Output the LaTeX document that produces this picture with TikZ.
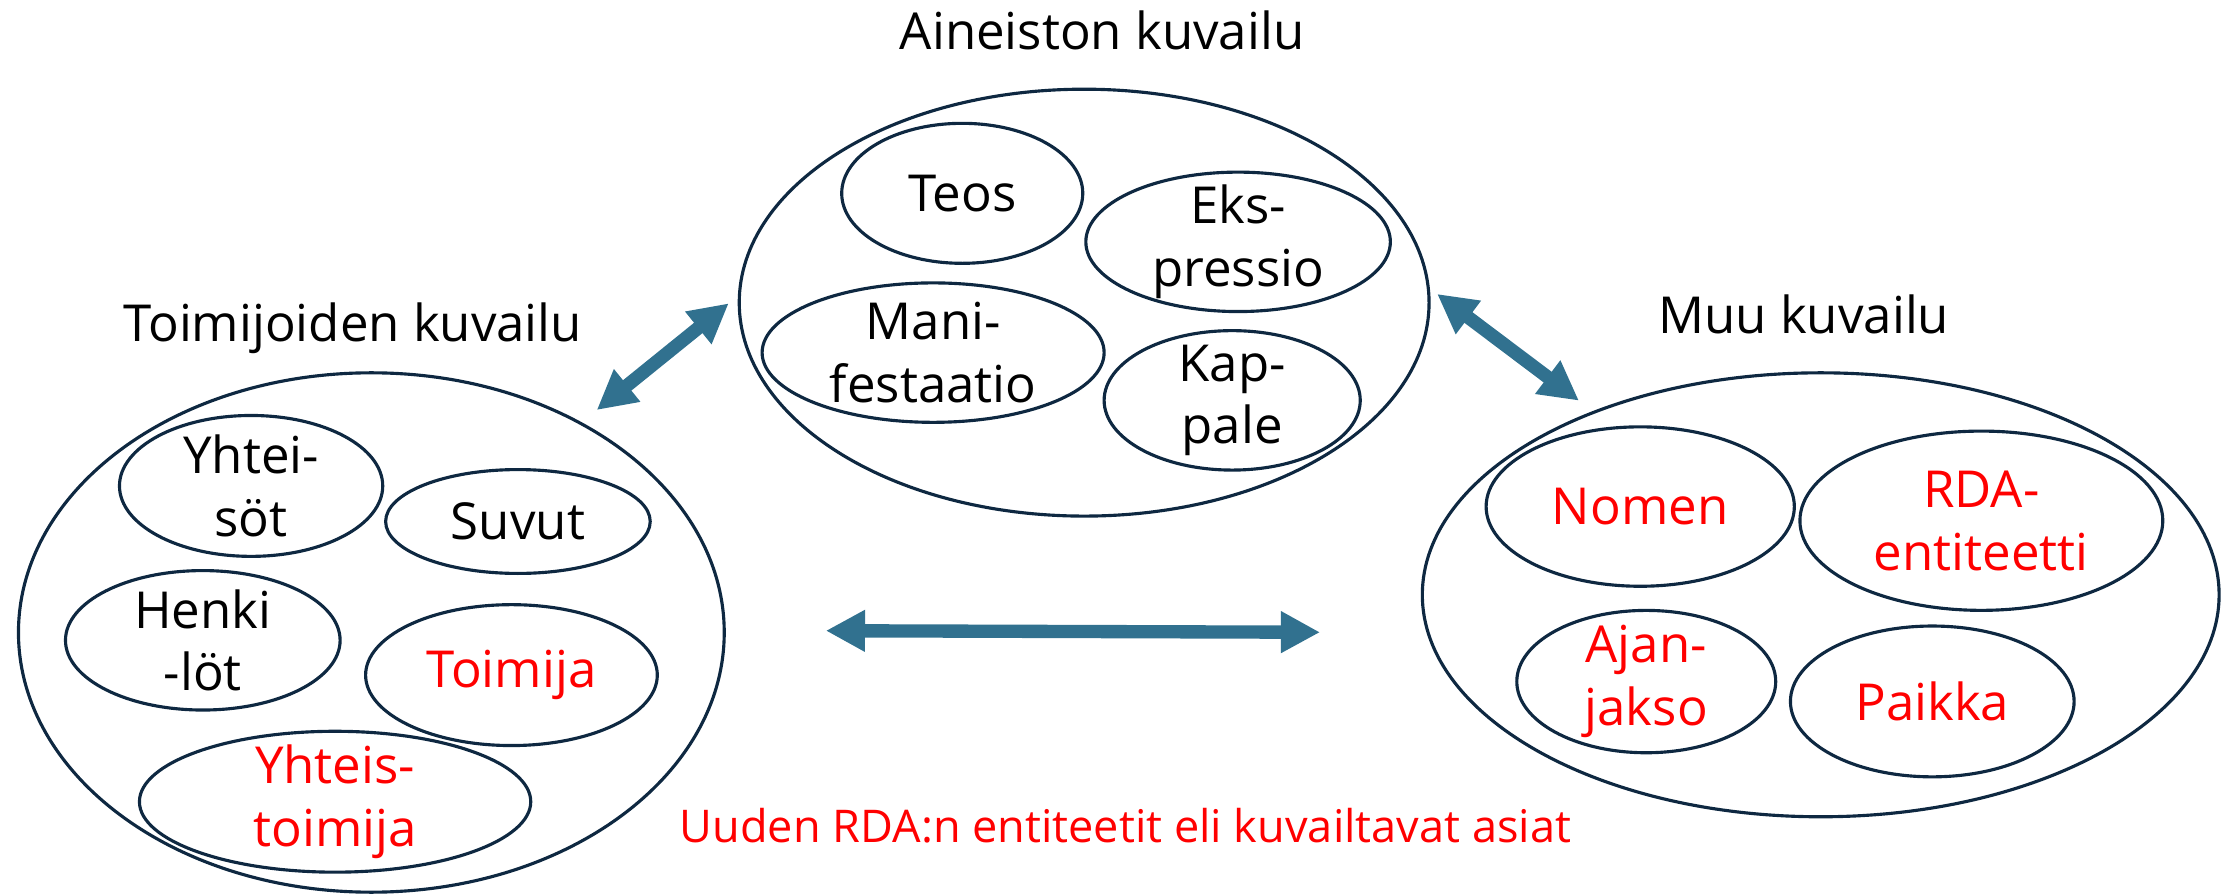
\documentclass[tikz,border=0pt]{standalone}
\usepackage{fontspec}
\setmainfont{Open Sans}
\usetikzlibrary{shapes.geometric,arrows.meta}
\definecolor{rim}{HTML}{0E2841}
\definecolor{arrowblue}{HTML}{31718F}

\begin{document}
\begin{tikzpicture}
        \useasboundingbox (0,0) rectangle (20,-8.014);
        \begin{scope}[every node/.style={draw=rim, line width=0.8pt, ellipse, inner sep=-5mm, align=center, font=\fontsize{13}{16}\selectfont},
                      new/.style={text=red},
                      title/.style={draw=none, rectangle, inner sep=0pt, anchor=base},
                      every path/.style={draw=arrowblue, line width=3.4pt, {Triangle[length=10pt,width=10pt]}-{Triangle[length=10pt,width=10pt]}}]
                % aineiston kuvailu
                \node[title] (Atitle) at (9.880,-0.446) {Aineiston kuvailu};
                \node[minimum width=6.184cm, minimum height=3.827cm] (A) at (9.719,-2.713) {};
                \node[minimum width=2.161cm, minimum height=1.255cm] (Teos) at (8.626,-1.733) {Teos};
                \node[minimum width=2.730cm, minimum height=1.250cm] (Eks) at (11.099,-2.168) {Eks-\\pressio};
                \node[minimum width=3.066cm, minimum height=1.250cm] (Mani) at (8.365,-3.161) {Mani-\\festaatio};
                \node[minimum width=2.296cm, minimum height=1.250cm] (Kap) at (11.046,-3.589) {Kap-\\pale};

                % toimijoiden kuvailu
                \node[title] (Ttitle) at (3.163,-3.061) {Toimijoiden kuvailu};
                \node[minimum width=6.327cm, minimum height=4.656cm] (T) at (3.329,-5.670) {};
                \node[minimum width=2.360cm, minimum height=1.263cm] (Yht) at (2.251,-4.356) {Yhtei-\\söt};
                \node[minimum width=2.372cm, minimum height=0.931cm] (Suvut) at (4.643,-4.675) {Suvut};
                \node[minimum width=2.462cm, minimum height=1.250cm] (Henk) at (1.818,-5.740) {Henki\\-löt};
                \node[new, minimum width=2.615cm, minimum height=1.263cm] (Toim) at (4.585,-6.052) {Toimija};
                \node[new, minimum width=3.508cm, minimum height=1.263cm] (YhtT) at (3.004,-7.187) {Yhteis-\\toimija};

                % muu kuvailu
                \node[title] (Mtitle) at (16.170,-2.988) {Muu kuvailu};
                \node[minimum width=7.143cm, minimum height=3.980cm] (M) at (16.322,-5.332) {};
                \node[new, minimum width=2.763cm, minimum height=1.429cm] (Nomen) at (14.704,-4.541) {Nomen};
                \node[new, minimum width=3.253cm, minimum height=1.607cm] (RDA) at (17.762,-4.668) {RDA-\\entiteetti};
                \node[new, minimum width=2.321cm, minimum height=1.276cm] (Ajan) at (14.758,-6.110) {Ajan-\\jakso};
                \node[new, minimum width=2.543cm, minimum height=1.352cm] (Paikka) at (17.322,-6.288) {Paikka};

                \node[title, new, font=\fontsize{11.5}{14}\selectfont] (Foot) at (10.089,-7.551) {Uuden RDA:n entiteetit eli kuvailtavat asiat};

                \coordinate (La) at (5.349,-3.676);
                \coordinate (Lb) at (6.533,-2.719);
                \coordinate (Ra) at (12.883,-2.635);
                \coordinate (Rb) at (14.155,-3.592);
                \coordinate (Ha) at (7.403,-5.654);
                \coordinate (Hb) at (11.834,-5.668);

                \path (La) -- (Lb);
                \path (Ra) -- (Rb);
                \path (Ha) -- (Hb);
        \end{scope}
\end{tikzpicture}
\end{document}
